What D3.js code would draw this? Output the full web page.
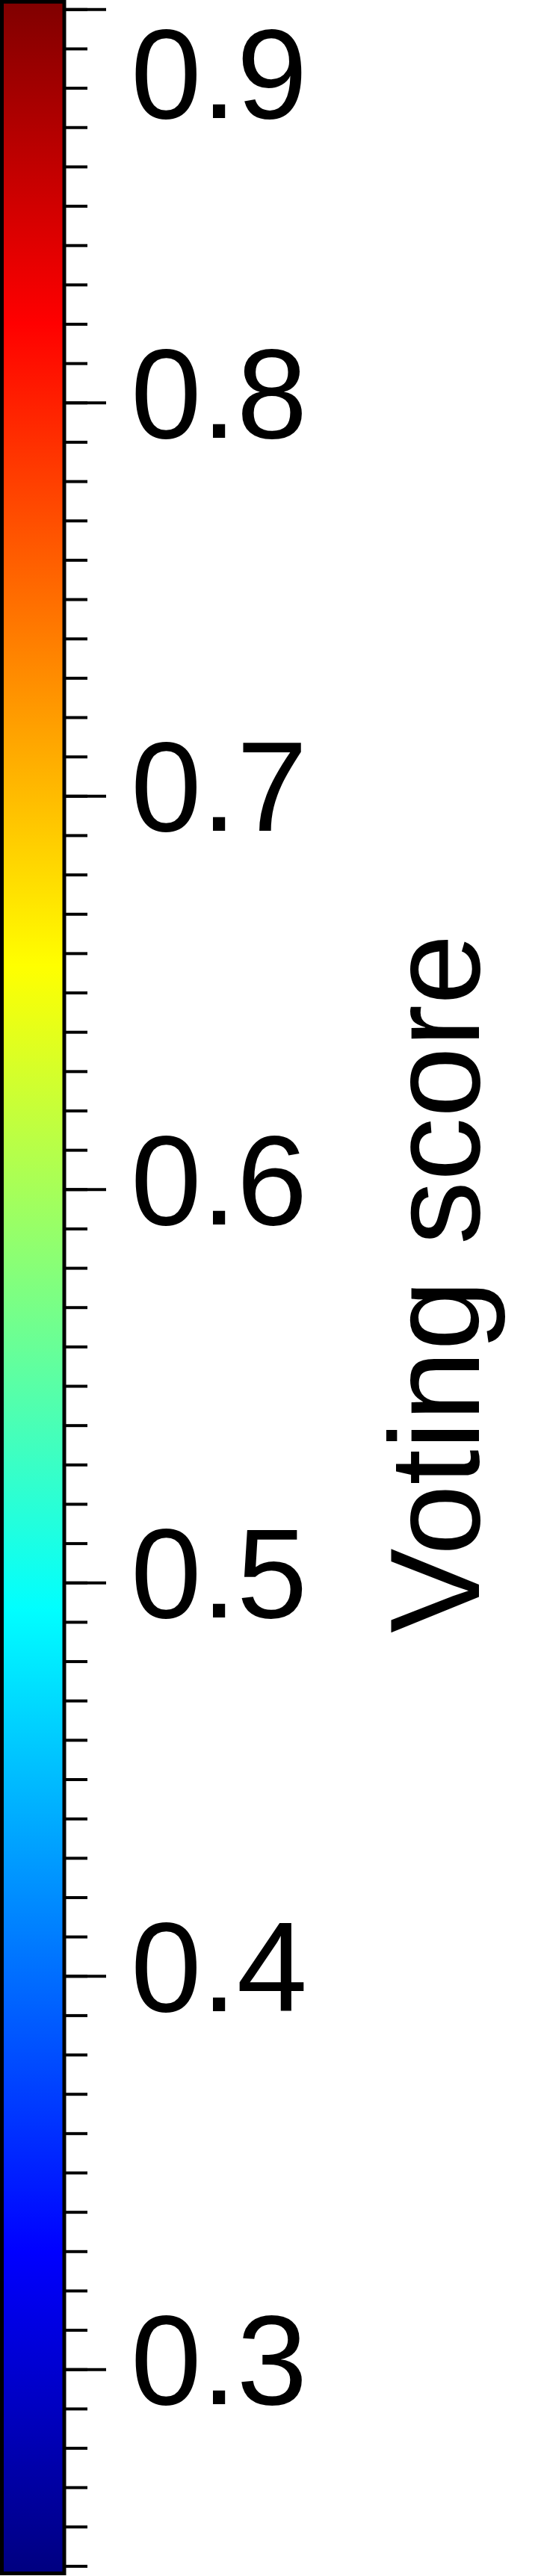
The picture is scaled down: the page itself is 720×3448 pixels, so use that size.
<!DOCTYPE html>
<html>
<head>
<meta charset="utf-8">
<script src="https://cdn.jsdelivr.net/npm/d3@7/dist/d3.min.js"></script>
<style>
  html, body { margin: 0; padding: 0; background: #fff; }
  svg { display: block; }
</style>
</head>
<body>
<script>
// ---- data ----
const valueDomain = [0.2481, 0.9019];
const majorTicks = [0.3, 0.4, 0.5, 0.6, 0.7, 0.8, 0.9];
const tickLabels = ["0.3", "0.4", "0.5", "0.6", "0.7", "0.8", "0.9"];
const minorTicks = d3.range(25, 91).map(d => d / 100);
const jetStops = [0, 0.125, 0.375, 0.625, 0.875, 1];
const jetColors = ["#000080", "#0000ff", "#00ffff", "#ffff00", "#ff0000", "#800000"];
const titleText = "Voting score";

// ---- layout ----
const W = 720, H = 3448;
const barX0 = 2.5, barX1 = 86;
const barY0 = 2.3, barY1 = 3444.5;
const fontSize = 170;

const svg = d3.select("body").append("svg")
  .attr("width", W).attr("height", H)
  .attr("viewBox", `0 0 ${W} ${H}`);

const y = d3.scaleLinear().domain(valueDomain).range([barY1, barY0]);
const jet = d3.scaleLinear().domain(jetStops).range(jetColors);

// gradient
const grad = svg.append("defs").append("linearGradient")
  .attr("id", "jetgrad")
  .attr("x1", 0).attr("y1", 1).attr("x2", 0).attr("y2", 0);
grad.selectAll("stop").data(jetStops).join("stop")
  .attr("offset", d => d)
  .attr("stop-color", d => jet(d));

svg.append("rect")
  .attr("x", barX0).attr("y", y(valueDomain[1]))
  .attr("width", barX1 - barX0)
  .attr("height", y(valueDomain[0]) - y(valueDomain[1]))
  .attr("fill", "url(#jetgrad)")
  .attr("stroke", "#000").attr("stroke-width", 5);

// minor ticks
const minorAxis = svg.append("g")
  .attr("transform", `translate(${barX1},0)`)
  .call(d3.axisRight(y).tickValues(minorTicks).tickSize(31).tickFormat(""));
minorAxis.select(".domain").remove();
minorAxis.selectAll("line").attr("stroke", "#000").attr("stroke-width", 4);

// major ticks
const majorAxis = svg.append("g")
  .attr("transform", `translate(${barX1},0)`)
  .call(d3.axisRight(y).tickValues(majorTicks).tickSize(56).tickFormat(""));
majorAxis.select(".domain").remove();
majorAxis.selectAll("line").attr("stroke", "#000").attr("stroke-width", 4);

// tick labels (kept inside the picture at the top, as in the reference)
const capH = 0.716 * fontSize;
const topInk = 36;
svg.append("g").selectAll("text").data(majorTicks).join("text")
  .attr("x", 175)
  .attr("y", d => Math.max(y(d) + 47, topInk + capH))
  .attr("font-family", "'Liberation Sans', Arial, sans-serif")
  .attr("font-size", fontSize)
  .attr("fill", "#000")
  .text((d, i) => tickLabels[i]);

// title
svg.append("text")
  .attr("transform", `translate(641,${y(0.576)}) rotate(-90)`)
  .attr("text-anchor", "middle")
  .attr("font-family", "'Liberation Sans', Arial, sans-serif")
  .attr("font-size", fontSize)
  .attr("fill", "#000")
  .text(titleText);
</script>
</body>
</html>
